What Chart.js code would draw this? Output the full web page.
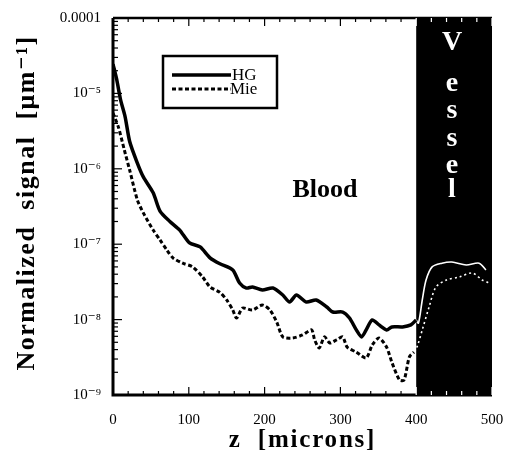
<!DOCTYPE html>
<html>
<head>
<meta charset="utf-8">
<script src="https://cdn.jsdelivr.net/npm/chart.js@4/dist/chart.umd.min.js"></script>
<style>
  html, body { margin: 0; padding: 0; background: #fff; }
  #wrap { width: 505px; height: 463px; position: relative; }
</style>
</head>
<body>
<div id="wrap"><canvas id="signalChart"></canvas></div>
<script>
// Normalized signal vs depth

const seriesNames = ['HG', 'Mie'];

// blood region (black curves)
const hgZ = [0, 5, 10, 16, 22, 32, 40, 53, 62, 75, 88, 101, 115, 128, 141, 158, 167, 176, 184, 197,
    211, 224, 233, 242, 255, 268, 282, 290, 303, 312, 321, 328, 334, 342, 351, 361, 368, 382, 393, 400];
const hgSignal = [2.45e-5, 1.51e-5, 8.2e-6, 4.9e-6, 2.3e-6, 1.2e-6, 7.8e-7, 4.8e-7, 2.75e-7, 2.0e-7,
    1.54e-7, 1.04e-7, 9.2e-8, 6.6e-8, 5.5e-8, 4.55e-8, 3.06e-8, 2.62e-8, 2.71e-8, 2.47e-8,
    2.62e-8, 2.12e-8, 1.71e-8, 2.12e-8, 1.71e-8, 1.82e-8, 1.47e-8, 1.26e-8, 1.26e-8, 1.05e-8,
    7.3e-9, 5.9e-9, 7.3e-9, 9.9e-9, 8.5e-9, 7.3e-9, 8.0e-9, 8.0e-9, 8.5e-9, 9.9e-9];

const mieZ = [0, 7, 15, 22, 32, 40, 53, 62, 71, 79, 92, 105, 118, 128, 141, 150, 158, 163, 171, 184,
    197, 207, 216, 224, 237, 250, 262, 266, 272, 279, 286, 295, 303, 309, 321, 334, 342, 351, 361,
    368, 378, 384, 391, 397];
const mieSignal = [5.5e-6, 3.6e-6, 1.77e-6, 9.6e-7, 3.9e-7, 2.6e-7, 1.54e-7, 1.14e-7, 8.4e-8, 6.6e-8,
    5.6e-8, 5.0e-8, 3.7e-8, 2.7e-8, 2.3e-8, 1.82e-8, 1.34e-8, 1.05e-8, 1.42e-8, 1.34e-8,
    1.56e-8, 1.34e-8, 9.3e-9, 5.9e-9, 5.7e-9, 6.25e-9, 7.3e-9, 5.4e-9, 4.2e-9, 5.9e-9,
    4.9e-9, 5.4e-9, 5.9e-9, 4.3e-9, 3.7e-9, 3.1e-9, 4.6e-9, 5.7e-9, 4.3e-9, 2.7e-9,
    1.58e-9, 1.58e-9, 3.2e-9, 3.7e-9];

// vessel region (white curves on black)
const vesselHgZ = [400, 403, 408, 413, 421, 434, 447, 466, 483, 492];
const vesselHgSignal = [9.9e-9, 9.0e-9, 1.82e-8, 3.35e-8, 5.0e-8, 5.6e-8, 5.8e-8, 5.3e-8, 5.6e-8, 4.55e-8];
const vesselMieZ = [398, 402, 408, 417, 426, 440, 457, 474, 487, 496];
const vesselMieSignal = [3.7e-9, 4.6e-9, 7.3e-9, 1.47e-8, 2.7e-8, 3.35e-8, 3.67e-8, 4.15e-8, 3.35e-8, 3.06e-8];

// axes
const xTicks = [0, 100, 200, 300, 400, 500];
const yTickValues = [1e-9, 1e-8, 1e-7, 1e-6, 1e-5, 1e-4];
const yTickLabels = ['10\u207B\u2079', '10\u207B\u2078', '10\u207B\u2077', '10\u207B\u2076', '10\u207B\u2075', '0.0001'];
const vesselStart = 400;
const regionLabels = ['Blood', 'Vessel'];

const serif = '"Liberation Serif", "DejaVu Serif", serif';

function toPoints(xs, ys) {
    return xs.map((x, i) => ({ x: x, y: ys[i] }));
}

const figurePlugin = {
    id: 'figureDecor',
    beforeDatasetsDraw(chart) {
        const { ctx, chartArea, scales } = chart;
        const x0 = scales.x.getPixelForValue(vesselStart);
        ctx.save();
        ctx.fillStyle = '#000';
        ctx.fillRect(x0, chartArea.top, chartArea.right - x0, chartArea.bottom - chartArea.top);
        ctx.restore();
    },
    afterDraw(chart) {
        const { ctx, chartArea, scales } = chart;
        const { left, right, top, bottom } = chartArea;
        ctx.save();

        // frame
        ctx.strokeStyle = '#000';
        ctx.lineWidth = 3;
        ctx.beginPath();
        ctx.moveTo(left, top);
        ctx.lineTo(left, bottom);
        ctx.lineTo(right, bottom);
        ctx.stroke();
        ctx.lineWidth = 2.5;
        ctx.beginPath();
        ctx.moveTo(left, top);
        ctx.lineTo(right, top);
        ctx.stroke();

        // inward ticks, x
        ctx.lineWidth = 1.2;
        for (let v = 0; v <= 500; v += 20) {
            const px = scales.x.getPixelForValue(v);
            const len = v % 100 === 0 ? 8 : 4;
            ctx.strokeStyle = v >= vesselStart ? '#fff' : '#000';
            ctx.beginPath();
            ctx.moveTo(px, bottom);
            ctx.lineTo(px, bottom - len);
            ctx.moveTo(px, top);
            ctx.lineTo(px, top + len);
            ctx.stroke();
        }
        // inward ticks, y (log minor)
        ctx.strokeStyle = '#000';
        for (let e = -9; e < -4; e++) {
            for (let m = 1; m <= 9; m++) {
                const py = scales.y.getPixelForValue(m * Math.pow(10, e));
                const len = m === 1 ? 9 : 5;
                ctx.beginPath();
                ctx.moveTo(left, py);
                ctx.lineTo(left + len, py);
                ctx.stroke();
            }
        }

        // legend box
        ctx.lineWidth = 2.5;
        ctx.strokeRect(163, 56, 114, 52);
        ctx.lineWidth = 3.5;
        ctx.beginPath();
        ctx.moveTo(172, 75);
        ctx.lineTo(231, 75);
        ctx.stroke();
        ctx.lineWidth = 3;
        ctx.setLineDash([4, 2.5]);
        ctx.beginPath();
        ctx.moveTo(172, 89);
        ctx.lineTo(231, 89);
        ctx.stroke();
        ctx.setLineDash([]);
        ctx.fillStyle = '#000';
        ctx.textAlign = 'left';
        ctx.textBaseline = 'middle';
        ctx.font = '17px ' + serif;
        ctx.fillText(seriesNames[0], 232, 76);
        ctx.fillText(seriesNames[1], 230, 90);

        // region labels
        ctx.font = 'bold 26px ' + serif;
        ctx.textAlign = 'center';
        ctx.textBaseline = 'alphabetic';
        ctx.fillText(regionLabels[0], 325, 197);

        ctx.fillStyle = '#fff';
        ctx.font = 'bold 28px ' + serif;
        ctx.textBaseline = 'middle';
        const letterY = [43, 84, 111, 139, 166, 190];
        regionLabels[1].split('').forEach((ch, i) => {
            ctx.fillText(ch, 452, letterY[i]);
        });

        // axis titles
        ctx.fillStyle = '#000';
        ctx.font = 'bold 25px ' + serif;
        ctx.letterSpacing = '1.8px';
        ctx.fillText('z  [microns]', (left + right) / 2, 441);

        ctx.save();
        ctx.translate(27, 203);
        ctx.rotate(-Math.PI / 2);
        ctx.font = 'bold 26px ' + serif;
        ctx.letterSpacing = '1.5px';
        ctx.fillText('Normalized  signal  [\u03BCm\u207B\u00B9]', 0, 0);
        ctx.restore();

        ctx.restore();
    }
};

new Chart(document.getElementById('signalChart'), {
    type: 'line',
    data: {
        datasets: [
            {
                label: seriesNames[0],
                data: toPoints(hgZ, hgSignal),
                borderColor: '#000',
                borderWidth: 3.5,
                pointRadius: 0,
                tension: 0.25
            },
            {
                label: seriesNames[1],
                data: toPoints(mieZ, mieSignal),
                borderColor: '#000',
                borderWidth: 3,
                borderDash: [4, 2.5],
                pointRadius: 0,
                tension: 0.25
            },
            {
                label: seriesNames[0] + ' (vessel)',
                data: toPoints(vesselHgZ, vesselHgSignal),
                borderColor: '#fff',
                borderWidth: 1.6,
                pointRadius: 0,
                tension: 0.3
            },
            {
                label: seriesNames[1] + ' (vessel)',
                data: toPoints(vesselMieZ, vesselMieSignal),
                borderColor: '#fff',
                borderWidth: 1.6,
                borderDash: [2, 3],
                pointRadius: 0,
                tension: 0.3
            }
        ]
    },
    options: {
        responsive: true,
        maintainAspectRatio: false,
        animation: false,
        layout: {
            padding: { top: 18, right: 13, left: 0, bottom: 0 }
        },
        scales: {
            x: {
                type: 'linear',
                min: 0,
                max: 500,
                afterFit(scale) {
                    scale.height = 68;
                    scale.paddingLeft = 0;
                    scale.paddingRight = 0;
                },
                afterBuildTicks(scale) {
                    scale.ticks = xTicks.map(v => ({ value: v }));
                },
                grid: { display: false, drawTicks: false },
                border: { display: false },
                ticks: {
                    padding: 16,
                    color: '#000',
                    font: { family: serif, size: 15 },
                    maxRotation: 0
                }
            },
            y: {
                type: 'logarithmic',
                min: 1e-9,
                max: 1e-4,
                afterFit(scale) {
                    scale.width = 113;
                    scale.paddingTop = 0;
                    scale.paddingBottom = 0;
                },
                afterBuildTicks(scale) {
                    scale.ticks = yTickValues.map(v => ({ value: v }));
                },
                grid: { display: false, drawTicks: false },
                border: { display: false },
                ticks: {
                    padding: 12,
                    color: '#000',
                    font: { family: serif, size: 15 },
                    callback: (value, index) => yTickLabels[index]
                }
            }
        },
        plugins: {
            legend: { display: false },
            tooltip: { enabled: false }
        }
    },
    plugins: [figurePlugin]
});
</script>
</body>
</html>
